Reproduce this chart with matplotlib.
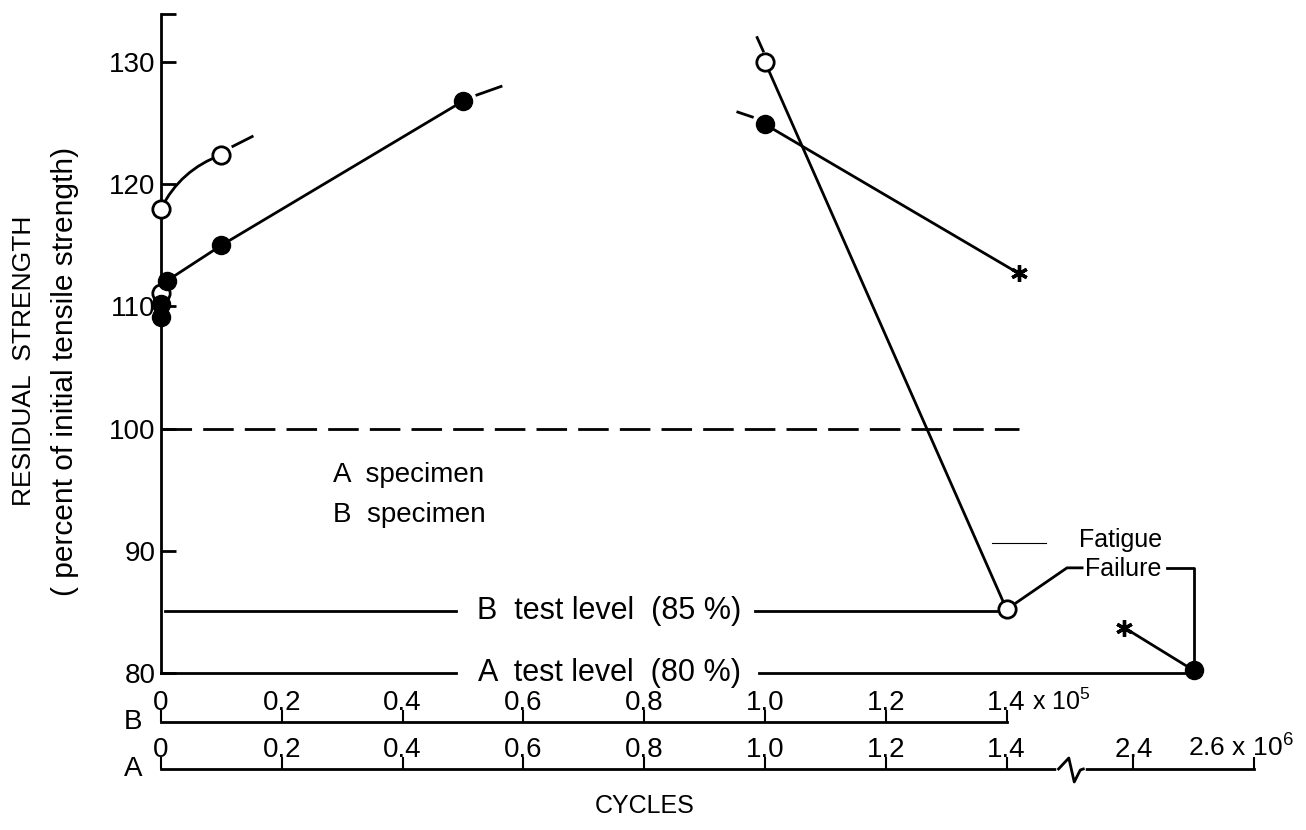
import matplotlib.pyplot as plt

plt.rcParams['font.family'] = ['Liberation Sans', 'DejaVu Sans']
plt.rcParams['mathtext.default'] = 'regular'

# B specimens (open circles), cycles in 1e5
b_x = [0, 0, 0.1, 1.0, 1.4]
b_y = [118.0, 111.1, 122.4, 130.0, 85.2]
# A specimens (filled circles), last point lies past the axis break (x 1e6)
a_x = [0, 0, 0.01, 0.1, 0.5, 1.0, 2.5]
a_y = [110.2, 109.1, 112.1, 115.0, 126.8, 124.9, 80.2]
# runouts (asterisks)
run_x = [1.42, 2.385]
run_y = [112.7, 83.7]

b_ticks = [0, 0.2, 0.4, 0.6, 0.8, 1.0, 1.2, 1.4]
b_labels = ['0', '0.2', '0.4', '0.6', '0.8', '1.0', '1.2', '1.4']
a_ticks = [0, 0.2, 0.4, 0.6, 0.8, 1.0, 1.2, 1.4, 2.4, 2.6]
a_labels = ['0', '0.2', '0.4', '0.6', '0.8', '1.0', '1.2', '1.4', '2.4', '']
y_ticks = [80, 90, 100, 110, 120, 130]

b_level = 85.1
a_level = 80
ref_level = 100


def pos(v):
    # broken axis: values past 1.45 are shifted left
    return v if v <= 1.45 else v - 0.79


fig = plt.figure(figsize=(13.06, 8.30), dpi=100)
left, width = 0.00766, 0.9712
ax = fig.add_axes([left, 0.1598, width, 0.8391])
ax.set_xlim(-0.25, 1.85)
ax.set_ylim(78, 135)
ax.patch.set_visible(False)

for s in ['top', 'right']:
    ax.spines[s].set_visible(False)
ax.spines['left'].set_position(('data', 0))
ax.spines['left'].set_bounds(80, 133.9)
ax.spines['bottom'].set_position(('data', 80))
ax.spines['bottom'].set_bounds(0, 0.488)
ax.spines['left'].set_linewidth(2)
ax.spines['bottom'].set_linewidth(2)
ax.set_xticks([])
ax.set_yticks(y_ticks + [133.9])
ax.set_yticklabels([str(t) for t in y_ticks] + [''])
ax.tick_params(axis='y', direction='in', length=11, width=2, pad=4, labelsize=20)

lw = 2
# reference lines
ax.plot([0, 1.42], [ref_level, ref_level], color='black', lw=lw, dashes=(11, 4))
ax.plot([0.007, 0.488], [b_level, b_level], color='black', lw=lw)
ax.plot([0.984, b_x[4]], [b_level, b_level], color='black', lw=lw)
ax.text(0.742, b_level, 'B  test level  (85 %)', fontsize=22, ha='center', va='center')
ax.plot([0.99, pos(a_x[6])], [a_level, a_level], color='black', lw=lw)
ax.text(0.743, a_level, 'A  test level  (80 %)', fontsize=22, ha='center', va='center')

# data lines
ax.annotate('', xy=(b_x[2], b_y[2]), xytext=(b_x[0], b_y[0]),
            arrowprops=dict(arrowstyle='-', lw=lw, color='black', shrinkA=0, shrinkB=0,
                            connectionstyle='arc3,rad=-0.2'))
ax.plot(a_x[2:5], a_y[2:5], color='black', lw=lw)
ax.plot([a_x[5], run_x[0]], [a_y[5], run_y[0]], color='black', lw=lw)
ax.plot(b_x[3:5], b_y[3:5], color='black', lw=lw)
ax.plot([pos(run_x[1]), pos(a_x[6])], [run_y[1], a_y[6]], color='black', lw=lw)

# short continuation stubs
stubs = [((0.119, 0.151), (123.1, 123.9)), ((0.523, 0.563), (127.3, 128.0)),
         ((0.955, 0.979), (125.9, 125.5)), ((0.987, 0.997), (132.0, 130.9))]
for xs, ys in stubs:
    ax.plot(xs, ys, color='black', lw=lw)

# markers
ax.plot(b_x, b_y, 'o', ms=12.5, mfc='white', mec='black', mew=2, zorder=5, clip_on=False)
ax.plot([pos(v) for v in a_x], a_y, 'o', ms=13, mfc='black', mec='black', zorder=5, clip_on=False)
ax.plot([pos(v) for v in run_x], run_y, marker=(6, 2, 0), ms=12, color='black', mew=2.4,
        ls='none', zorder=5)

# legend text
ax.text(0.285, 96.2, 'A  specimen', fontsize=20, ha='left', va='center')
ax.text(0.285, 92.9, 'B  specimen', fontsize=20, ha='left', va='center')

# fatigue failure labels with leaders
ax.text(1.588, 90.9, 'Fatigue', fontsize=18, ha='center', va='center')
ax.text(1.593, 88.5, 'Failure', fontsize=18, ha='center', va='center')
ax.plot([b_x[4], 1.500, 1.525], [b_y[4], 88.6, 88.6], color='black', lw=lw)
ax.plot([1.665, pos(a_x[6]), pos(a_x[6])], [88.6, 88.6, a_y[6]], color='black', lw=lw)
ax.plot([1.376, 1.465], [90.6, 90.6], color='black', lw=0.8)

# y label
fig.text(0.0184, 0.565, 'RESIDUAL  STRENGTH', rotation=90, fontsize=19, ha='center', va='center')
fig.text(0.0498, 0.552, '( percent of initial tensile strength)', rotation=90, fontsize=21.5,
         ha='center', va='center')


def cycle_axis(y_top, ticks, labels, end):
    a = fig.add_axes([left, y_top - 0.02, width, 0.02])
    a.set_xlim(-0.25, 1.85)
    a.set_ylim(-16.6, 0)
    a.patch.set_visible(False)
    for s in ['bottom', 'left', 'right']:
        a.spines[s].set_visible(False)
    a.spines['top'].set_bounds(0, end)
    a.spines['top'].set_linewidth(2)
    a.set_yticks([])
    a.xaxis.tick_top()
    a.set_xticks([pos(t) for t in ticks])
    a.set_xticklabels(labels)
    a.tick_params(axis='x', direction='out', length=8.6, width=1.5, pad=-4, labelsize=20)
    return a


ax_b = cycle_axis(0.1301, b_ticks, b_labels, 1.4)
ax_b.text(-0.046, 0, 'B', fontsize=20, ha='center', va='center')
ax_b.annotate('x 10$^5$', xy=(1.4, 0), xytext=(18, 8.6), textcoords='offset points',
              fontsize=18, ha='left', va='baseline')

ax_a = cycle_axis(0.0735, a_ticks, a_labels, pos(2.6))
ax_a.text(-0.046, 0, 'A', fontsize=20, ha='center', va='center')
ax_a.annotate('2.6 x 10$^6$', xy=(pos(2.6), 0), xytext=(-10, 8.6), textcoords='offset points',
              fontsize=19, ha='center', va='baseline')
# axis break mark
ax_a.plot([1.486, 1.527], [0, 0], color='white', lw=4, clip_on=False, zorder=3)
ax_a.plot([1.486, 1.503, 1.512, 1.522, 1.527], [0, 11, -13, -1, 0], color='black', lw=2,
          clip_on=False, zorder=4)

fig.text(645 / 1306, 1 - 806 / 830, 'CYCLES', fontsize=18, ha='center', va='center')

plt.savefig('out.png', dpi=100)
